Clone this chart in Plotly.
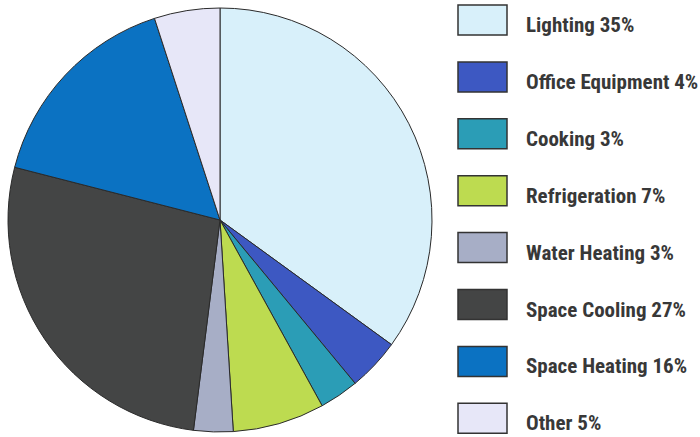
import plotly.graph_objects as go

labels = ["Lighting", "Office Equipment", "Cooking", "Refrigeration",
          "Water Heating", "Space Cooling", "Space Heating", "Other"]
values = [35, 4, 3, 7, 3, 27, 16, 5]
colors = ["#d8f0fa", "#3d58c2", "#2b9db6", "#bddb50",
          "#a7aec6", "#444545", "#0b72c2", "#e7e7f8"]

W, H = 700, 437

fig = go.Figure(go.Pie(
    labels=labels, values=values, sort=False, direction="clockwise", rotation=0,
    marker=dict(colors=colors, line=dict(color="#2a2a2a", width=1)),
    textinfo="none", hoverinfo="label+percent", showlegend=False,
    domain=dict(x=[8 / W, 432 / W], y=[1 - 432 / H, 1 - 8 / H]),
))

# legend drawn by hand: large boxes with condensed bold labels
shapes = []
annotations = []
for i, (lab, val, col) in enumerate(zip(labels, values, colors)):
    top = 5 + i * 56.9
    bot = top + 30
    shapes.append(dict(type="rect", xref="paper", yref="paper",
                       x0=458 / W, x1=507 / W, y0=1 - bot / H, y1=1 - top / H,
                       fillcolor=col, line=dict(color="#333333", width=1.5)))
    annotations.append(dict(x=524 / W, y=1 - (top + 20) / H, xref="paper", yref="paper",
                            xanchor="left", yanchor="middle", showarrow=False,
                            text=f'<span style="font-stretch:condensed">{lab} {val}%</span>',
                            font=dict(family="Roboto Condensed, Open Sans, sans-serif",
                                      size=21, color="#383838", weight="bold")))

fig.update_layout(
    width=W, height=H, margin=dict(l=0, r=0, t=0, b=0),
    paper_bgcolor="white", plot_bgcolor="white",
    shapes=shapes, annotations=annotations,
)

# drop the page's default body margin so the figure sits at the window corner
fig.write_html("out.html", config={"displayModeBar": False},
               post_script="document.body.style.margin='0';")
